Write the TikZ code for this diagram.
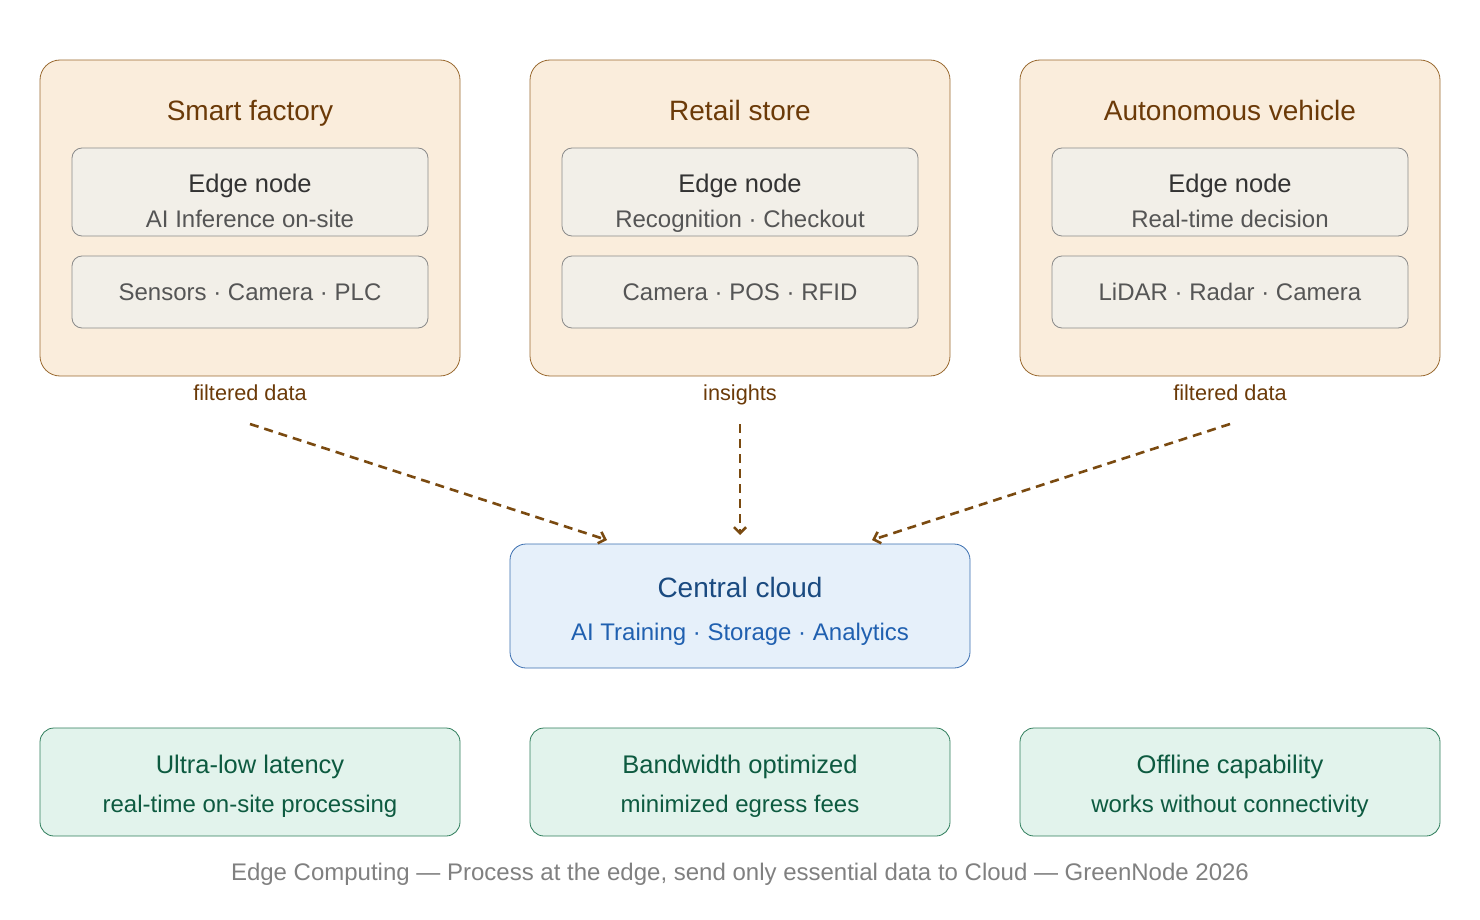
\documentclass[tikz,border=0pt]{standalone}
\usepackage{fontspec}
\setmainfont{Liberation Sans}
\usetikzlibrary{arrows.meta}
\definecolor{ofill}{HTML}{FAEDDC}
\definecolor{oline}{HTML}{9A6A30}
\definecolor{otext}{HTML}{6B3A08}
\definecolor{ifill}{HTML}{F2EFE8}
\definecolor{iline}{HTML}{8A8A8A}
\definecolor{itext}{HTML}{333333}
\definecolor{isub}{HTML}{555555}
\definecolor{cfill}{HTML}{E6F0FA}
\definecolor{cline}{HTML}{3A6EB0}
\definecolor{ctext}{HTML}{1A4A80}
\definecolor{csub}{HTML}{2060B0}
\definecolor{gfill}{HTML}{E2F3EC}
\definecolor{gline}{HTML}{2E7D5B}
\definecolor{gtext}{HTML}{0D5A40}
\definecolor{arr}{HTML}{7A4A10}
\tikzset{
 site/.style={draw=oline,fill=ofill,rounded corners=20pt,line width=0.8pt},
 inner/.style={draw=iline,fill=ifill,rounded corners=10pt,line width=0.8pt},
 cloud/.style={draw=cline,fill=cfill,rounded corners=16pt,line width=0.8pt},
 ben/.style={draw=gline,fill=gfill,rounded corners=14pt,line width=0.8pt},
 t/.style={font=\fontsize{28}{32}\selectfont,inner sep=0,anchor=base},
 e/.style={font=\fontsize{25.5}{30}\selectfont,inner sep=0,anchor=base},
 s/.style={font=\fontsize{24}{28}\selectfont,inner sep=0,anchor=base},
 lab/.style={font=\fontsize{21.7}{26}\selectfont,text=otext,inner sep=0,anchor=base},
 flow/.style={draw=arr,line width=2.6pt,dash pattern=on 9pt off 6pt,-{Straight Barb[length=6pt,width=12pt]}}
}
\begin{document}
\begin{tikzpicture}[x=1pt,y=-1pt]
\useasboundingbox (0,0) rectangle (1480,920);
\foreach \n/\x/\ti/\sa/\sb in {a/40/Smart factory/AI Inference on-site/Sensors · Camera · PLC,
  b/530/Retail store/Recognition · Checkout/Camera · POS · RFID,
  c/1020/Autonomous vehicle/Real-time decision/LiDAR · Radar · Camera}{
 \draw[site] (\x,60) rectangle ++(420,316);
 \node[t,text=otext] (\n t) at (\x+210,121) {\ti};
 \draw[inner] (\x+32,148) rectangle ++(356,88);
 \node[e,text=itext] (\n e) at (\x+210,193) {Edge node};
 \node[s,text=isub] (\n f) at (\x+210,228) {\sa};
 \draw[inner] (\x+32,256) rectangle ++(356,72);
 \node[s,text=isub] (\n g) at (\x+210,300) {\sb};
}
\node[lab] (la) at (250,400) {filtered data};
\node[lab] (lb) at (740,400) {insights};
\node[lab] (lc) at (1230,400) {filtered data};
\coordinate (sa) at (250,424); \coordinate (sb) at (740,424); \coordinate (sc) at (1230,424);
\coordinate (ea) at (607,540); \coordinate (eb) at (740,535); \coordinate (ec) at (872,540);
\draw[cloud] (510,544) rectangle (970,668);
\node[t,text=ctext] (cc) at (740,597) {Central cloud};
\node[s,text=csub] (cs) at (740,640) {AI Training · Storage · Analytics};
\draw[flow] (sa) -- (ea);
\draw[flow] (sb) -- (eb);
\draw[flow] (sc) -- (ec);
\foreach \n/\x/\ti/\sa in {p/40/Ultra-low latency/real-time on-site processing,
  q/530/Bandwidth optimized/minimized egress fees,
  r/1020/Offline capability/works without connectivity}{
 \draw[ben] (\x,728) rectangle ++(420,108);
 \node[e,text=gtext] (\n t) at (\x+210,773) {\ti};
 \node[s,text=gtext] (\n s) at (\x+210,812) {\sa};
}
\node[s,text=gray] (cap) at (740,880) {Edge Computing — Process at the edge, send only essential data to Cloud — GreenNode 2026};
\end{tikzpicture}
\end{document}
